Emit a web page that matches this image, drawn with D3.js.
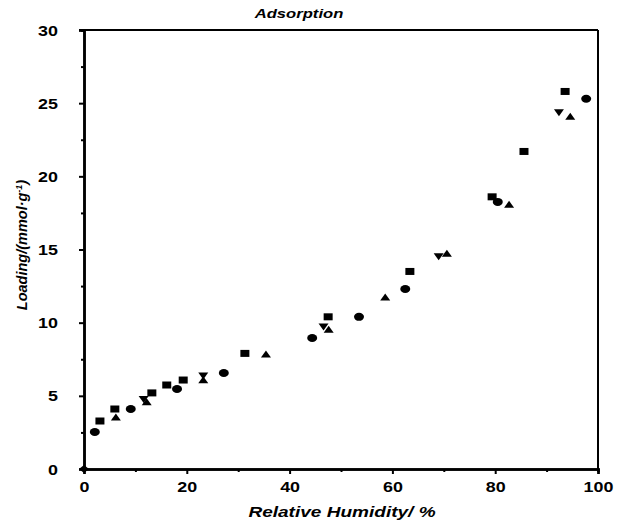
<!DOCTYPE html>
<html><head><meta charset="utf-8">
<script src="https://cdn.jsdelivr.net/npm/d3@7"></script>
<style>body{margin:0;background:#fff}svg{display:block}text{font-family:"Liberation Sans",Arial,sans-serif}</style>
</head><body><div id="chart"></div>
<script>
// Data (Relative humidity %, loading mmol/g)
const squareRH   = [3.1, 6.0, 13.2, 16.1, 19.3, 31.3, 47.5, 63.4, 79.4, 85.6, 93.6];
const squareLoad = [3.28, 4.10, 5.2, 5.74, 6.08, 7.9, 10.4, 13.5, 18.6, 21.7, 25.8];
const circleRH   = [2.1, 9.1, 18.1, 27.2, 44.4, 53.5, 62.5, 80.5, 97.7];
const circleLoad = [2.53, 4.1, 5.47, 6.56, 8.95, 10.4, 12.3, 18.25, 25.3];
const triUpRH    = [6.2, 12.2, 23.2, 35.4, 47.6, 58.6, 70.6, 82.7, 94.6];
const triUpLoad  = [3.55, 4.6, 6.1, 7.86, 9.55, 11.76, 14.75, 18.1, 24.1];
const triDownRH  = [11.6, 23.2, 46.6, 69.0, 92.4];
const triDownLoad= [4.75, 6.35, 9.7, 14.5, 24.35];
const originRH   = [0];
const originLoad = [0];
const xTicks = [0, 20, 40, 60, 80, 100];
const xMinor = [10, 30, 50, 70, 90];
const yTicks = [0, 5, 10, 15, 20, 25, 30];
const yMinor = [2.5, 7.5, 12.5, 17.5, 22.5, 27.5];

const W = 618, H = 525;
const SX = 1.28; // horizontal stretch of the lettering in the reference
const svg = d3.select("#chart").append("svg").attr("width", W).attr("height", H);
const x = d3.scaleLinear().domain([0, 100]).range([84, 598]);
const y = d3.scaleLinear().domain([0, 30]).range([469, 30]);

// frame (top & right)
svg.append("line").attr("x1", x(0) - 5).attr("x2", x(100)).attr("y1", y(30)).attr("y2", y(30))
  .attr("stroke", "#000").attr("stroke-width", 2);
svg.append("line").attr("x1", x(100)).attr("x2", x(100)).attr("y1", y(30)).attr("y2", y(0))
  .attr("stroke", "#000").attr("stroke-width", 2);

const xAxis = svg.append("g").attr("transform", `translate(0,${y(0)})`)
  .call(d3.axisBottom(x).tickValues(xTicks).tickSize(5).tickPadding(8).tickFormat(d3.format("d")));
const xAxisMinor = svg.append("g").attr("transform", `translate(0,${y(0)})`)
  .call(d3.axisBottom(x).tickValues(xMinor).tickSize(3).tickFormat(""));
const yAxis = svg.append("g").attr("transform", `translate(${x(0)},0)`)
  .call(d3.axisLeft(y).tickValues(yTicks).tickSize(5).tickPadding(18).tickFormat(d3.format("d")));
const yAxisMinor = svg.append("g").attr("transform", `translate(${x(0)},0)`)
  .call(d3.axisLeft(y).tickValues(yMinor).tickSize(3).tickFormat(""));
[xAxis, xAxisMinor, yAxis, yAxisMinor].forEach(g => {
  g.select(".domain").attr("stroke", "#000").attr("stroke-width", 2.5);
  g.selectAll(".tick line").attr("stroke", "#000").attr("stroke-width", 2);
  g.selectAll("text").attr("font-size", 14).attr("font-weight", "bold").attr("fill", "#000")
    .style("font-family", '"Liberation Sans", Arial, sans-serif');
});
xAxis.selectAll("text").attr("transform", `scale(${SX},1)`);
yAxis.selectAll("text").attr("dy", "0.36em").attr("x", -26 / SX).attr("transform", `scale(${SX},1)`);

// markers
const g = svg.append("g");
g.selectAll(".sq").data(d3.zip(squareRH, squareLoad)).join("rect")
  .attr("x", d => x(d[0]) - 4.5).attr("y", d => y(d[1]) - 3.5).attr("width", 9).attr("height", 7).attr("fill", "#000");
g.selectAll(".ci").data(d3.zip(circleRH, circleLoad)).join("ellipse")
  .attr("cx", d => x(d[0])).attr("cy", d => y(d[1])).attr("rx", 5).attr("ry", 4).attr("fill", "#000");
g.selectAll(".tu").data(d3.zip(triUpRH, triUpLoad)).join("path")
  .attr("d", d => { const cx = x(d[0]), cy = y(d[1]); return `M${cx-5},${cy+3.5}L${cx+5},${cy+3.5}L${cx},${cy-3.5}Z`; })
  .attr("fill", "#000");
g.selectAll(".td").data(d3.zip(triDownRH, triDownLoad)).join("path")
  .attr("d", d => { const cx = x(d[0]), cy = y(d[1]); return `M${cx-5},${cy-3.5}L${cx+5},${cy-3.5}L${cx},${cy+3.5}Z`; })
  .attr("fill", "#000");
g.selectAll(".or").data(d3.zip(originRH, originLoad)).join("path")
  .attr("d", d => { const cx = x(d[0]), cy = y(d[1]); return `M${cx-5},${cy}L${cx},${cy-4}L${cx+5},${cy}L${cx},${cy+4}Z`; })
  .attr("fill", "#000");

// title
svg.append("text").attr("transform", `translate(299,18) scale(${SX},1)`).attr("text-anchor", "middle")
  .attr("font-size", 13).attr("font-weight", "bold").attr("font-style", "italic").text("Adsorption");
// x label
svg.append("text").attr("transform", `translate(342,517) scale(1.36,1)`).attr("text-anchor", "middle")
  .attr("font-size", 14).attr("font-weight", "bold").attr("font-style", "italic").text("Relative Humidity/ %");
// y label
const yl = svg.append("text").attr("transform", "translate(27,245) rotate(-90)").attr("text-anchor", "middle")
  .attr("font-size", 14.5).attr("font-weight", "bold").attr("font-style", "italic");
yl.append("tspan").text("Loading/(mmol\u00B7g");
yl.append("tspan").attr("dy", -5).attr("font-size", 9).text("-1");
yl.append("tspan").attr("dy", 5).text(")");
</script></body></html>
